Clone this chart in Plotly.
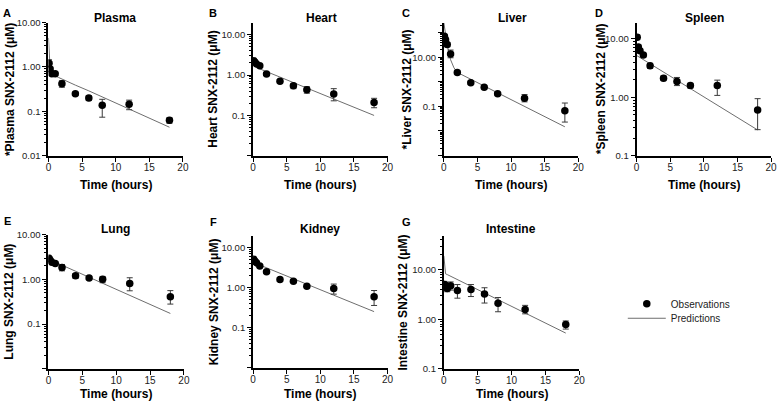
import plotly.graph_objects as go

W, H = 783, 404

# ---------------- data ----------------
obs_t = [0.083, 0.25, 0.5, 1, 2, 4, 6, 8, 12, 18]
pred_t = [0, 0.25, 0.5, 1, 1.5, 2, 4, 6, 8, 12, 18]

plasma_obs = [1.22, 0.90, 0.70, 0.70, 0.42, 0.25, 0.20, 0.137, 0.144, 0.063]
plasma_up = [0.23, 0.10, 0.06, 0.05, 0.07, 0.02, 0.025, 0.05, 0.035, 0.009]
plasma_dn = [0.23, 0.10, 0.06, 0.05, 0.07, 0.02, 0.025, 0.063, 0.035, 0.009]
plasma_pred = [4.5, 0.90, 0.72, 0.63, 0.58, 0.54, 0.39, 0.29, 0.21, 0.113, 0.044]

heart_obs = [2.26, 2.10, 1.88, 1.71, 1.06, 0.70, 0.54, 0.435, 0.34, 0.21]
heart_up = [0.15, 0.15, 0.10, 0.12, 0.08, 0.05, 0.08, 0.08, 0.12, 0.055]
heart_dn = [0.15, 0.15, 0.10, 0.12, 0.08, 0.05, 0.08, 0.08, 0.11, 0.055]
heart_pred = [2.4, 1.9, 1.65, 1.42, 1.32, 1.22, 0.89, 0.65, 0.48, 0.255, 0.10]

liver_obs = [71.6, 51.0, 32.6, 13.5, 2.41, 0.91, 0.60, 0.33, 0.213, 0.067]
liver_up = [8.0, 8.0, 6.0, 6.0, 0.3, 0.1, 0.06, 0.04, 0.09, 0.07]
liver_dn = [8.0, 8.0, 6.0, 4.0, 0.3, 0.1, 0.06, 0.04, 0.06, 0.044]
liver_pred = [250, 89, 31, 7.9, 3.7, 2.4, 1.27, 0.67, 0.356, 0.10, 0.0148]

spleen_obs = [10.7, 7.3, 6.26, 5.3, 3.47, 2.13, 1.87, 1.59, 1.59, 0.61]
spleen_up = [1.0, 0.6, 0.5, 0.4, 0.35, 0.2, 0.32, 0.15, 0.38, 0.34]
spleen_dn = [1.0, 0.6, 0.5, 0.4, 0.35, 0.2, 0.28, 0.15, 0.51, 0.33]
spleen_pred = [5.2, 4.99, 4.79, 4.39, 4.05, 3.73, 2.70, 1.95, 1.41, 0.73, 0.277]

lung_obs = [2.96, 2.68, 2.42, 2.26, 1.85, 1.20, 1.07, 1.00, 0.805, 0.41]
lung_up = [0.25, 0.20, 0.15, 0.15, 0.30, 0.15, 0.08, 0.16, 0.28, 0.15]
lung_dn = [0.25, 0.20, 0.15, 0.15, 0.30, 0.15, 0.08, 0.16, 0.25, 0.13]
lung_pred = [3.4, 2.85, 2.6, 2.42, 2.24, 2.07, 1.52, 1.11, 0.817, 0.438, 0.173]

kidney_obs = [5.1, 4.6, 4.18, 3.47, 2.48, 1.59, 1.45, 1.08, 0.96, 0.59]
kidney_up = [0.4, 0.4, 0.3, 0.3, 0.2, 0.15, 0.1, 0.08, 0.27, 0.26]
kidney_dn = [0.4, 0.4, 0.3, 0.3, 0.2, 0.15, 0.1, 0.08, 0.27, 0.23]
kidney_pred = [5.3, 4.4, 4.0, 3.67, 3.4, 3.14, 2.29, 1.67, 1.22, 0.65, 0.253]

intestine_obs = [5.03, 4.73, 4.2, 4.73, 3.83, 4.0, 3.25, 2.1, 1.57, 0.785]
intestine_up = [0.8, 0.8, 1.0, 0.95, 1.2, 1.03, 1.08, 0.65, 0.34, 0.14]
intestine_dn = [1.0, 0.8, 0.6, 0.84, 1.16, 1.12, 1.12, 0.68, 0.28, 0.15]
intestine_pred = [19, 8.28, 8.0, 7.38, 6.85, 6.31, 4.63, 3.4, 2.49, 1.34, 0.527]

panel_titles = ["Plasma", "Heart", "Liver", "Spleen", "Lung", "Kidney", "Intestine"]
panel_letters = ["A", "B", "C", "D", "E", "F", "G"]
y_titles = ["*Plasma SNX-2112 (μM)", "Heart SNX-2112 (μM)", "*Liver SNX-2112 (μM)",
            "*Spleen SNX-2112 (μM)", "Lung SNX-2112 (μM)", "Kidney SNX-2112 (μM)",
            "Intestine SNX-2112 (μM)"]
x_title = "Time (hours)"
x_ticks = [0, 5, 10, 15, 20]

# y tick labels per panel (value -> label, "" = unlabeled)
y_ticks = [
    ([0.01, 0.1, 1, 10], ["0.01", "0.1", "1.00", "10.00"]),
    ([0.01, 0.1, 1, 10], ["", "0.1", "1.00", "10.00"]),
    ([0.001, 0.01, 0.1, 1, 10, 100], ["", "", "0.1", "", "10.00", ""]),
    ([0.1, 1, 10], ["0.1", "1.00", "10.00"]),
    ([0.01, 0.1, 1, 10], ["", "0.1", "1.00", "10.00"]),
    ([0.01, 0.1, 1, 10], ["", "0.1", "1.00", "10.00"]),
    ([0.1, 1, 10], ["0.1", "1.00", "10.00"]),
]

series = [
    (plasma_obs, plasma_up, plasma_dn, plasma_pred),
    (heart_obs, heart_up, heart_dn, heart_pred),
    (liver_obs, liver_up, liver_dn, liver_pred),
    (spleen_obs, spleen_up, spleen_dn, spleen_pred),
    (lung_obs, lung_up, lung_dn, lung_pred),
    (kidney_obs, kidney_up, kidney_dn, kidney_pred),
    (intestine_obs, intestine_up, intestine_dn, intestine_pred),
]

# ---------------- layout geometry (pixels) ----------------
geom = [
    (46, 182, 17, 154, [-2, 1]),
    (253, 389, 17, 154, [-2, 1.3]),
    (446, 582, 17, 154, [-3.01, 2.41]),
    (641, 777, 17, 154, [-1, 1.28]),
    (46, 183, 235, 373, [-2, 1]),
    (253, 389, 236, 372, [-2, 1.3]),
    (446, 583, 236, 373, [-1, 1.69]),
]
letter_pos = [(4, 7), (212, 7), (408, 7), (603, 7), (5, 221), (213, 222), (408, 222)]
title_pos = [(113, 12), (322, 12), (515, 12), (710, 12), (114, 229), (321, 229), (514, 229)]
ytitle_x = [7, 213, 409, 605, 6, 213, 405]
xtitle_y = [184, 184, 184, 184, 399, 399, 399]

FONT = "Liberation Sans, Arial, sans-serif"

def fx(p):
    return p / W

def fy(p):
    return 1 - p / H

fig = go.Figure()
annotations = []
layout = {}

def ann(text, px, py, size, angle=0):
    return dict(text=text, x=fx(px), y=fy(py), xref="paper", yref="paper",
                xanchor="center", yanchor="middle", showarrow=False,
                textangle=angle, font=dict(family=FONT, size=size, color="black"))

for i in range(7):
    obs, up, dn, pred = series[i]
    x0, x1, yt, yb, yr = geom[i]
    ax = "" if i == 0 else str(i + 1)
    xref, yref = "x" + ax, "y" + ax

    fig.add_trace(go.Scatter(
        x=pred_t, y=pred, mode="lines", xaxis=xref, yaxis=yref,
        line=dict(color="#6e6e6e", width=1),
        name="Predictions", showlegend=(i == 0), legend="legend2",
    ))
    fig.add_trace(go.Scatter(
        x=obs_t, y=obs, mode="markers", xaxis=xref, yaxis=yref,
        marker=dict(color="black", size=7.5),
        error_y=dict(type="data", array=up, arrayminus=dn, symmetric=False,
                     color="#3a3a3a", thickness=1, width=3),
        name="Observations", showlegend=(i == 0), legend="legend",
    ))

    minor_vals = [m * 10 ** e for e in range(-3, 3) for m in range(2, 10)]
    tv, tt = y_ticks[i]
    layout["xaxis" + ax] = dict(
        domain=[fx(x0), fx(x1)], anchor=yref, range=[0, 20],
        tickmode="array", tickvals=x_ticks, ticks="outside", ticklen=4,
        tickwidth=1, tickcolor="black", showline=True, linecolor="black",
        linewidth=2, showgrid=False, zeroline=False, ticklabelstandoff=-3,
        tickfont=dict(family=FONT, size=10, color="#222"),
    )
    layout["yaxis" + ax] = dict(
        domain=[fy(yb), fy(yt)], anchor=xref, type="log", range=yr,
        tickmode="array", tickvals=tv, ticktext=tt, ticks="outside", ticklen=4,
        tickwidth=1, tickcolor="black", showline=True, linecolor="black",
        linewidth=2, showgrid=False, zeroline=False,
        tickfont=dict(family=FONT, size=9.5, color="#222"),
        minor=dict(tickmode="array", tickvals=minor_vals, ticks="outside",
                   ticklen=2, tickcolor="black", tickwidth=1, showgrid=False),
    )

    lx, ly = letter_pos[i]
    annotations.append(ann("<b>%s</b>" % panel_letters[i], lx, ly, 11))
    tx, ty = title_pos[i]
    annotations.append(ann("<b>%s</b>" % panel_titles[i], tx, ty, 12))
    annotations.append(ann("<b>%s</b>" % y_titles[i], ytitle_x[i], (yt + yb) / 2, 12, -90))
    annotations.append(ann("<b>%s</b>" % x_title, (x0 + x1) / 2, xtitle_y[i], 12))

leg_common = dict(xanchor="left", yanchor="middle", bgcolor="rgba(0,0,0,0)",
                  font=dict(family=FONT, size=10, color="#222"), itemwidth=38)

fig.update_layout(
    width=W, height=H, margin=dict(l=0, r=0, t=0, b=0),
    paper_bgcolor="white", plot_bgcolor="white",
    annotations=annotations,
    showlegend=True,
    legend=dict(x=fx(627), y=fy(306), **leg_common),
    legend2=dict(x=fx(627), y=fy(321), **leg_common),
    **layout,
)

fig.write_html("out.html", config={"displayModeBar": False},
               post_script="document.body.style.margin='0';document.body.style.overflow='hidden';")
